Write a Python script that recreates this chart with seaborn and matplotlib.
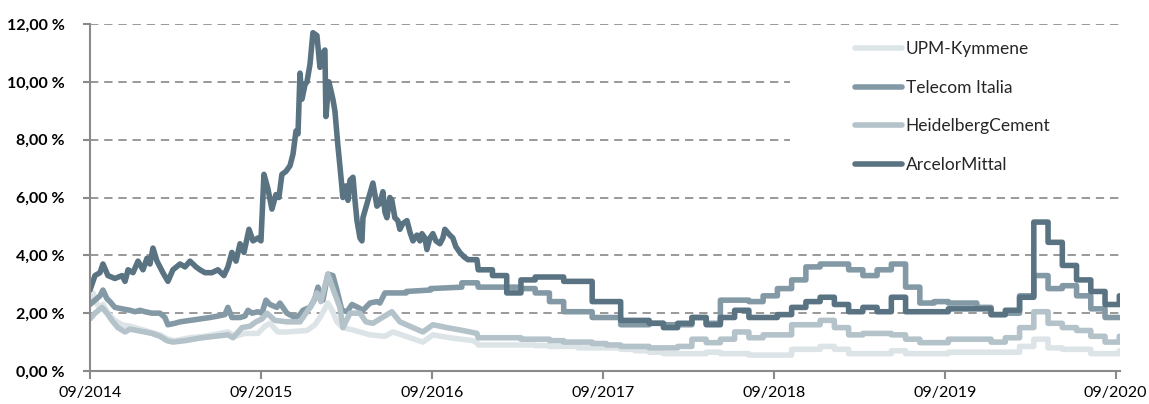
import numpy as np
import pandas as pd
import matplotlib
matplotlib.use("Agg")
import matplotlib.pyplot as plt
from matplotlib.patches import Rectangle
import seaborn as sns

# zeit in monaten seit 09/2014; bis ~08/2016 tageswerte (ausgedünnt), danach monatliche stufen
STEP_START = 27.25

arcelor_t = [0, 0.35, 0.7, 0.91, 1.26, 1.75, 2.25, 2.46, 2.67, 3.02, 3.37, 3.72, 4.0, 4.21, 4.42,
             4.7, 5.12, 5.47, 5.82, 6.32, 6.67, 7.02, 7.44, 7.72, 8.07, 8.56, 8.98, 9.4, 9.68, 9.96,
             10.25, 10.53, 10.81, 11.16, 11.44, 11.79, 12.0, 12.21, 12.49, 12.77, 13.05, 13.26, 13.47,
             13.75, 14.04, 14.25, 14.46, 14.6, 14.74, 14.88, 15.09, 15.23, 15.44, 15.65, 15.93, 16.14,
             16.35, 16.49, 16.56, 16.77, 17.05, 17.19, 17.4, 17.54, 17.75, 17.96, 18.11, 18.25, 18.46,
             18.6, 18.74, 18.95, 19.09, 19.16, 19.51, 19.86, 20.0, 20.14, 20.35, 20.56, 20.7, 20.84,
             21.05, 21.19, 21.4, 21.61, 21.75, 21.96, 22.25, 22.46, 22.67, 22.95, 23.16, 23.3, 23.51,
             23.65, 23.86, 24.07, 24.28, 24.56, 24.77, 24.91, 25.26, 25.47, 25.68, 25.96, 26.25, 26.53, 27.16]
arcelor_v = [2.8, 3.3, 3.4, 3.7, 3.3, 3.2, 3.3, 3.1, 3.5, 3.4, 3.8, 3.5, 3.9, 3.7, 4.25,
             3.8, 3.4, 3.1, 3.5, 3.7, 3.6, 3.8, 3.6, 3.5, 3.4, 3.4, 3.5, 3.3, 3.6, 4.1,
             3.8, 4.4, 4.1, 4.9, 4.5, 4.6, 4.5, 6.8, 6.3, 5.6, 6.1, 6.0, 6.8,
             6.9, 7.1, 7.5, 8.3, 8.2, 10.3, 9.4, 9.9, 10.0, 10.6, 11.7, 11.6, 10.5,
             11.0, 11.1, 8.8, 10.0, 9.4, 9.0, 7.8, 7.1, 6.0, 6.4, 5.9, 6.6, 6.7,
             5.9, 5.2, 4.6, 4.5, 5.3, 5.9, 6.5, 6.1, 5.7, 5.8, 6.2, 5.5, 5.3,
             6.0, 5.9, 5.3, 5.2, 4.9, 5.1, 5.2, 4.8, 4.5, 4.7, 4.5, 4.75, 4.6,
             4.2, 4.6, 4.75, 4.5, 4.4, 4.6, 4.9, 4.7, 4.6, 4.3, 4.1, 3.95, 3.85, 3.85]
arcelor_monthly = [3.5, 3.3, 2.7, 3.15, 3.25, 3.25, 3.1, 3.1, 2.4, 2.4, 1.75, 1.75, 1.65, 1.5, 1.65,
                   1.85, 1.6, 1.85, 2.1, 1.85, 1.85, 1.95, 2.2, 2.4, 2.55, 2.3, 2.05, 2.2, 2.05, 2.55,
                   2.05, 2.05, 2.05, 2.15, 2.15, 2.15, 1.95, 2.1, 2.55, 5.15, 4.45, 3.65, 3.15, 2.75, 2.3]
arcelor_end = 2.6

telecom_t = [0, 0.35, 0.7, 0.91, 1.19, 1.4, 1.75, 2.25, 2.81, 3.16, 3.51, 3.86, 4.35, 4.91, 5.26,
             5.47, 5.96, 6.32, 7.02, 7.72, 8.42, 8.98, 9.47, 9.68, 9.96, 10.53, 10.88, 11.09, 11.37,
             11.79, 12.07, 12.35, 12.63, 13.12, 13.33, 13.82, 14.39, 14.74, 14.95, 15.44, 15.79, 16.0,
             16.35, 16.7, 17.05, 17.33, 17.68, 18.04, 18.39, 18.81, 19.16, 19.65, 20.14, 20.35, 20.7,
             22.2, 22.2, 23.9, 23.9, 26.1, 26.1, 27.2]
telecom_v = [2.3, 2.45, 2.6, 2.8, 2.5, 2.4, 2.2, 2.15, 2.1, 2.05, 2.1, 2.05, 2.0, 2.0, 1.85,
             1.6, 1.65, 1.7, 1.75, 1.8, 1.85, 1.9, 1.95, 2.2, 1.85, 1.85, 1.9, 2.1, 2.0,
             2.05, 2.0, 2.45, 2.3, 2.2, 2.35, 2.0, 1.85, 1.95, 2.1, 2.2, 2.5, 2.9,
             2.45, 3.35, 3.3, 2.8, 2.1, 2.05, 2.3, 2.2, 2.1, 2.35, 2.4, 2.35, 2.7,
             2.7, 2.75, 2.8, 2.85, 2.9, 3.05, 3.05]
telecom_monthly = [2.9, 2.9, 2.9, 2.85, 2.7, 2.4, 2.05, 2.05, 1.85, 1.85, 1.6, 1.6, 1.65, 1.6, 1.6,
                   1.85, 1.65, 2.45, 2.45, 2.4, 2.6, 2.85, 3.15, 3.6, 3.7, 3.7, 3.5, 3.3, 3.5, 3.7,
                   2.9, 2.35, 2.4, 2.35, 2.35, 2.2, 1.95, 2.0, 2.6, 3.3, 2.85, 2.95, 2.6, 2.15, 1.85]
telecom_end = 1.85

heidelberg_t = [0, 0.35, 0.84, 1.19, 1.54, 1.96, 2.46, 2.81, 3.3, 3.86, 4.35, 4.91, 5.4, 5.82, 6.67,
                7.86, 8.77, 9.68, 10.04, 10.67, 11.23, 11.65, 12.07, 12.42, 12.98, 13.82, 14.74, 15.23,
                15.58, 15.93, 16.21, 16.7, 17.05, 17.54, 17.75, 18.25, 18.95, 19.37, 19.86, 20.35, 21.19,
                21.75, 22.67, 23.37, 24.07, 25.05, 26.18, 27.16]
heidelberg_v = [1.8, 2.0, 2.2, 2.0, 1.75, 1.5, 1.35, 1.45, 1.4, 1.35, 1.3, 1.2, 1.05, 1.0, 1.05,
                1.15, 1.2, 1.25, 1.15, 1.5, 1.55, 1.7, 1.8, 2.0, 1.75, 1.7, 1.7, 2.05,
                2.3, 2.7, 2.4, 3.35, 2.85, 2.2, 1.5, 2.0, 2.0, 1.7, 1.65, 1.8, 2.05,
                1.7, 1.5, 1.35, 1.6, 1.5, 1.4, 1.3]
heidelberg_monthly = [1.15, 1.15, 1.15, 1.1, 1.1, 1.05, 1.0, 1.0, 0.95, 0.9, 0.85, 0.85, 0.8, 0.8, 0.85,
                      1.1, 0.98, 1.1, 1.35, 1.15, 1.25, 1.25, 1.6, 1.6, 1.75, 1.5, 1.25, 1.3, 1.3, 1.25,
                      1.1, 0.98, 0.98, 1.1, 1.1, 1.1, 1.0, 1.15, 1.5, 2.05, 1.65, 1.5, 1.4, 1.2, 1.0]
heidelberg_end = 1.2

upm_t = [0, 0.21, 0.49, 0.7, 0.91, 1.26, 1.75, 2.25, 2.81, 3.51, 4.21, 4.91, 5.47, 5.96, 7.02,
         8.07, 9.12, 9.68, 10.18, 10.88, 11.79, 12.28, 12.63, 13.19, 13.82, 15.23, 15.79, 16.14,
         16.7, 17.05, 17.33, 17.75, 18.6, 19.65, 20.7, 21.26, 22.46, 23.37, 24.07, 25.26, 26.88, 27.23]
upm_v = [2.5, 2.7, 2.3, 2.2, 2.3, 2.0, 1.75, 1.6, 1.55, 1.45, 1.35, 1.25, 1.1, 1.05, 1.15,
         1.2, 1.3, 1.35, 1.2, 1.3, 1.3, 1.55, 1.65, 1.35, 1.35, 1.4, 1.6, 1.85,
         2.35, 2.05, 1.7, 1.5, 1.4, 1.25, 1.2, 1.35, 1.15, 1.0, 1.25, 1.15, 1.05, 0.95]
upm_monthly = [0.9, 0.9, 0.9, 0.9, 0.88, 0.85, 0.85, 0.8, 0.8, 0.8, 0.75, 0.7, 0.65, 0.6, 0.6,
               0.6, 0.65, 0.6, 0.6, 0.55, 0.55, 0.55, 0.75, 0.75, 0.85, 0.75, 0.6, 0.6, 0.6, 0.7,
               0.6, 0.6, 0.6, 0.65, 0.65, 0.65, 0.65, 0.65, 0.85, 1.1, 0.8, 0.75, 0.75, 0.6, 0.6]
upm_end = 0.7

years = ["09/2014", "09/2015", "09/2016", "09/2017", "09/2018", "09/2019", "09/2020"]
y_ticks = [0, 2, 4, 6, 8, 10, 12]


def build(t_early, v_early, monthly, end_val):
    t = list(t_early)
    v = list(v_early)
    for i, val in enumerate(monthly):
        start = STEP_START + i
        t += [start, start + 1]
        v += [val, val]
    t.append(t[-1])
    v.append(end_val)
    return pd.DataFrame({"t": t, "v": v})


series = [
    ("UPM-Kymmene", build(upm_t, upm_v, upm_monthly, upm_end), "#dde4e8"),
    ("Telecom Italia", build(telecom_t, telecom_v, telecom_monthly, telecom_end), "#839aa6"),
    ("HeidelbergCement", build(heidelberg_t, heidelberg_v, heidelberg_monthly, heidelberg_end), "#b4c2c9"),
    ("ArcelorMittal", build(arcelor_t, arcelor_v, arcelor_monthly, arcelor_end), "#5a7382"),
]

sns.set_style("white")
plt.rcParams['font.family'] = ['Lato', 'DejaVu Sans']

fig, ax = plt.subplots(figsize=(11.49, 4.04), dpi=100)
fig.subplots_adjust(left=90/1149, right=1120/1149, bottom=1-371/404, top=1-24/404)

for name, df, col in series:
    sns.lineplot(data=df, x="t", y="v", ax=ax, color=col, lw=4.0, estimator=None, sort=False,
                 label=name, solid_joinstyle="round", solid_capstyle="round")

# weißer kasten hinter der legende (verdeckt die gitterlinien)
ax.add_patch(Rectangle((0.68, 0.536), 0.33, 0.447, transform=ax.transAxes,
                       facecolor="white", edgecolor="none", zorder=1))

ax.set_xlim(0, 72.3)
ax.set_ylim(0, 12)
ax.set_xticks(np.arange(0, 73, 12))
ax.set_xticklabels(years)
ax.set_yticks(y_ticks)
ax.set_yticklabels([f"{v:.2f}".replace(".", ",") + " %" for v in y_ticks], fontweight="bold")
ax.set_xlabel("")
ax.set_ylabel("")

ax.set_axisbelow(True)
ax.yaxis.grid(True, linestyle=(0, (5, 3.5)), color="#878787", lw=1.2)
ax.xaxis.grid(False)

sns.despine(ax=ax)
for s in ["left", "bottom"]:
    ax.spines[s].set_color("#8a8a8a")
    ax.spines[s].set_linewidth(1.5)

ax.tick_params(axis="x", bottom=True, length=6, width=1.5, color="#8a8a8a", pad=5,
               labelsize=11.5, labelcolor="black")
ax.tick_params(axis="y", left=True, length=5, width=1.5, color="#8a8a8a", pad=13,
               labelsize=11.5, labelcolor="black")

ax.legend(loc="upper left", bbox_to_anchor=(0.728, 0.995), frameon=False, fontsize=12.5,
          handlelength=2.7, handletextpad=0.2, labelspacing=1.3)

plt.savefig("out.png", dpi=100)
